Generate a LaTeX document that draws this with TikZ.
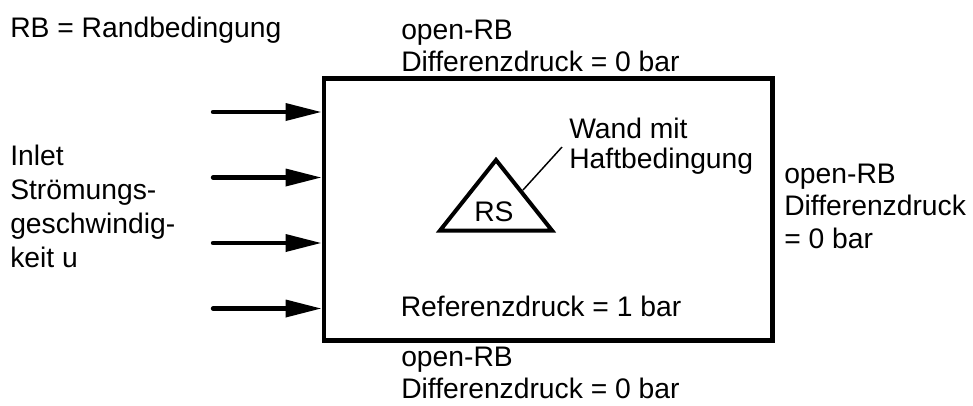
\documentclass[tikz,border=0pt]{standalone}
\usepackage{fontspec}
\setmainfont{Liberation Sans}
\usetikzlibrary{arrows.meta}

\begin{document}
\begin{tikzpicture}[
  x=0.75pt, y=-0.75pt,
  txt/.style={anchor=base west, inner sep=0pt, font=\fontsize{21.2pt}{24pt}\selectfont},
  domainbox/.style={draw, line width=3.4pt, inner sep=0pt, minimum width=336.4pt, minimum height=196.5pt},
  inflow/.style={line width=3.3pt, line cap=round, -{Triangle[length=27pt, width=12.5pt]}},
  wall/.style={draw, line width=3pt, line join=miter},
  leader/.style={draw, line width=1.1pt}
]
\useasboundingbox (0,0) rectangle (973,405);

% computational domain
\node[domainbox] (box) at (548.25,209.5) {};

% inflow arrows on the inlet side
\foreach \i/\yy in {1/112, 2/177.5, 3/243, 4/308.5} {
  \coordinate (tail\i) at (213,\yy);
  \draw[inflow] (tail\i) -- (tail\i -| box.west);
}

% obstacle with no-slip wall
\coordinate (apex) at (496,160);
\coordinate (bl) at (440,230.5);
\coordinate (br) at (552,230.5);
\draw[wall] (apex) -- (br) -- (bl) -- cycle;
\node[txt] (rs) at (474,221.7) {RS};

% labels
\node[txt] (legend) at (10,37) {RB = Randbedingung};

\node[txt] (top1) at (401,39) {open-RB};
\node[txt] (top2) at (401,71) {Differenzdruck = 0 bar};

\node[txt] (in1) at (10,165) {Inlet};
\node[txt] (in2) at (10,199) {Strömungs-};
\node[txt] (in3) at (10,233) {geschwindig-};
\node[txt] (in4) at (10,267) {keit u};

\node[txt] (r1) at (784,183) {open-RB};
\node[txt] (r2) at (784,215.5) {Differenzdruck};
\node[txt] (r3) at (784,248) {= 0 bar};

\node[txt] (wand1) at (569,138) {Wand mit};
\node[txt] (wand2) at (569,168) {Haftbedingung};

\node[txt] (ref) at (400.5,316.7) {Referenzdruck = 1 bar};

\node[txt] (bot1) at (401,366) {open-RB};
\node[txt] (bot2) at (401,398) {Differenzdruck = 0 bar};

% leader from the wall to its label
\coordinate (wallpt) at (523,190);
\coordinate (wallend) at (562,147);
\draw[leader] (wallpt) -- (wallend);
\end{tikzpicture}
\end{document}
